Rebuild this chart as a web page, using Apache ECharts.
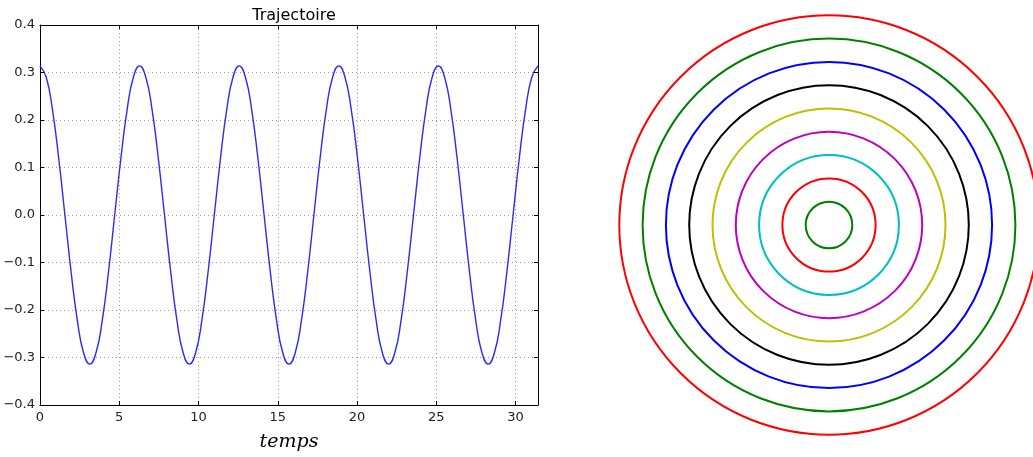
<!DOCTYPE html>
<html>
<head>
<meta charset="utf-8">
<script src="https://cdn.jsdelivr.net/npm/echarts@6/dist/echarts.min.js"></script>
<style>html,body{margin:0;padding:0;background:#fff}#c{width:1033px;height:457px}</style>
</head>
<body>
<div id="c"></div>
<script>
// Left plot: trajectory samples (temps, value)
const temps = [0,0.393,0.785,1.178,1.571,1.963,2.356,2.749,3.142,3.534,3.927,4.320,4.712,5.105,5.498,5.890,
6.283,6.676,7.069,7.461,7.854,8.247,8.639,9.032,9.425,9.817,10.210,10.603,10.996,11.388,11.781,12.174,
12.566,12.959,13.352,13.744,14.137,14.530,14.923,15.315,15.708,16.101,16.493,16.886,17.279,17.671,18.064,18.457,
18.850,19.242,19.635,20.028,20.420,20.813,21.206,21.598,21.991,22.384,22.777,23.169,23.562,23.955,24.347,24.740,
25.133,25.525,25.918,26.311,26.704,27.096,27.489,27.882,28.274,28.667,29.060,29.452,29.845,30.238,30.631,31.023,31.416];
const trajectoire = [0.314,0.290,0.222,0.120,0,-0.120,-0.222,-0.290,-0.314,-0.290,-0.222,-0.120,0,0.120,0.222,0.290,
0.314,0.290,0.222,0.120,0,-0.120,-0.222,-0.290,-0.314,-0.290,-0.222,-0.120,0,0.120,0.222,0.290,
0.314,0.290,0.222,0.120,0,-0.120,-0.222,-0.290,-0.314,-0.290,-0.222,-0.120,0,0.120,0.222,0.290,
0.314,0.290,0.222,0.120,0,-0.120,-0.222,-0.290,-0.314,-0.290,-0.222,-0.120,0,0.120,0.222,0.290,
0.314,0.290,0.222,0.120,0,-0.120,-0.222,-0.290,-0.314,-0.290,-0.222,-0.120,0,0.120,0.222,0.290,
0.314];
const titleText = 'Trajectoire';
const xLabel = 'temps';
// Right plot: concentric circles (radius, colour)
const radii = [1,2,3,4,5,6,7,8,9];
const circleColors = ['#008000','#ff0000','#00bfbf','#bf00bf','#bfbf00','#000000','#0000ff','#008000','#ff0000'];

const lineData = temps.map((t,i)=>[t, trajectoire[i]]);
const circleData = radii.map(r=>[0,0,r]);

const FONT = 'DejaVu Sans';
const fmtY = v => { const s = Math.abs(v).toFixed(1); return (v < -1e-9 ? '\u2212' : '') + s; };

const chart = echarts.init(document.getElementById('c'), null, {renderer:'canvas'});
chart.setOption({
  animation: false,
  backgroundColor: '#fff',
  title: {text: titleText, left: 289, top: 3, textAlign: 'center',
    textStyle: {fontFamily: FONT, fontSize: 16, fontWeight: 'normal', color: '#000'}},
  grid: [
    {left: 40, top: 25, width: 498, height: 385, show: false},
    {left: 626.3, top: 22.3, width: 405.4, height: 405.4, show: false}
  ],
  xAxis: [
    {type: 'value', gridIndex: 0, min: 0, max: 31.416, interval: 5, position: 'bottom',
      name: xLabel, nameLocation: 'middle', nameGap: 28,
      nameTextStyle: {fontFamily: 'DejaVu Serif', fontStyle: 'italic', fontSize: 19, color: '#000'},
      axisLine: {show: true, onZero: false, lineStyle: {color: '#000', width: 1}},
      axisTick: {show: true, inside: true, length: 4, lineStyle: {color: '#000'}},
      axisLabel: {show: true, margin: 6, fontFamily: FONT, fontSize: 13, color: '#222',
        formatter: v => (Math.abs(v % 5) < 1e-9 ? String(v) : '')},
      splitLine: {show: true, lineStyle: {color: '#9a9a9a', type: [1,3], width: 1}}},
    {type: 'value', gridIndex: 0, min: 0, max: 31.416, interval: 5, position: 'top',
      axisLine: {show: true, onZero: false, lineStyle: {color: '#000', width: 1}},
      axisTick: {show: true, inside: true, length: 4, lineStyle: {color: '#000'}},
      axisLabel: {show: false}, splitLine: {show: false}},
    {type: 'value', gridIndex: 1, min: -8.7, max: 8.7, show: false}
  ],
  yAxis: [
    {type: 'value', gridIndex: 0, min: -0.4, max: 0.4, interval: 0.1, position: 'left',
      axisLine: {show: true, onZero: false, lineStyle: {color: '#000', width: 1}},
      axisTick: {show: true, inside: true, length: 4, lineStyle: {color: '#000'}},
      axisLabel: {show: true, margin: 5, fontFamily: FONT, fontSize: 13, color: '#222', formatter: fmtY},
      splitLine: {show: true, lineStyle: {color: '#9a9a9a', type: [1,3], width: 1}}},
    {type: 'value', gridIndex: 0, min: -0.4, max: 0.4, interval: 0.1, position: 'right',
      axisLine: {show: true, onZero: false, lineStyle: {color: '#000', width: 1}},
      axisTick: {show: true, inside: true, length: 4, lineStyle: {color: '#000'}},
      axisLabel: {show: false}, splitLine: {show: false}},
    {type: 'value', gridIndex: 1, min: -8.7, max: 8.7, show: false}
  ],
  series: [
    {type: 'line', xAxisIndex: 0, yAxisIndex: 0, data: lineData, smooth: 0.5, showSymbol: false,
      lineStyle: {color: '#2a2aff', width: 1.4}, z: 5},
    {type: 'custom', xAxisIndex: 2, yAxisIndex: 2, data: circleData, clip: false,
      renderItem: function (params, api) {
        const c = api.coord([api.value(0), api.value(1)]);
        const r = api.size([api.value(2), 0])[0];
        return {type: 'circle', shape: {cx: c[0], cy: c[1], r: r},
          style: {fill: null, stroke: circleColors[params.dataIndex], lineWidth: 2}};
      }}
  ]
});
</script>
</body>
</html>
